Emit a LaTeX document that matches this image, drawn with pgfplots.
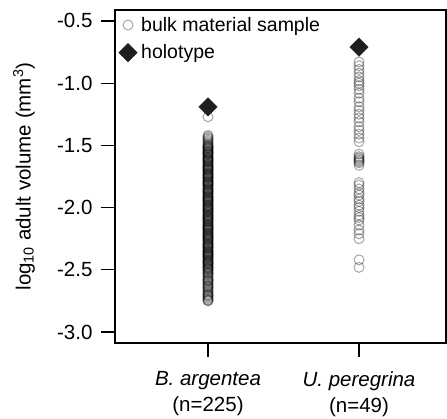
\documentclass[border=0pt]{standalone}
\usepackage{fontspec}
\setmainfont{Liberation Sans}
\usepackage{pgfplots}
\pgfplotsset{compat=1.18}

\begin{document}
\begin{tikzpicture}
\useasboundingbox (-115pt,-76pt) rectangle (332pt,343pt);
\begin{axis}[
  at={(0,0)}, anchor=south west,
  scale only axis, width=331pt, height=333pt,
  xmin=0.384, xmax=2.576, ymin=-3.088, ymax=-0.412,
  axis line style={line width=1.3pt},
  tick style={line width=1.3pt, black},
  tick align=outside, major tick length=14pt,
  xtick pos=left, ytick pos=left,
  xtick={1,2},
  xticklabels={{\textit{B. argentea}\\(n=225)},{\textit{U. peregrina}\\(n=49)}},
  xticklabel style={align=center, yshift=-11pt, font=\fontsize{20.5}{26}\selectfont},
  ytick={-3,-2.5,-2,-1.5,-1,-0.5},
  yticklabels={-3.0,-2.5,-2.0,-1.5,-1.0,-0.5},
  yticklabel style={xshift=-5pt, font=\fontsize{20.5}{24}\selectfont},
  ylabel={log\textsubscript{10} adult volume (mm\textsuperscript{3})},
  ylabel style={at={(axis description cs:-0.275,0.5)}, anchor=center,
    font=\fontsize{20.5}{24}\selectfont},
  legend style={at={(axis description cs:0.011,0.985)}, anchor=north west,
    draw=none, fill=none, inner sep=0pt, row sep=8pt,
    font=\fontsize{19.5}{22}\selectfont},
  legend cell align=left,
  legend image code/.code={
    \draw[mark repeat=2, mark phase=2, #1] plot coordinates {(0pt,0pt) (7pt,0pt) (14pt,0pt)};
    \path (18pt,0pt);},
]
% bulk material, B. argentea
\addplot[only marks, mark=o, mark size=5pt,
  mark options={draw=black, draw opacity=0.35, line width=1pt}]
  table[x expr=1, y index=0, header=false, row sep=\\] {
-1.27\\
-1.42\\ -1.43\\ -1.44\\ -1.45\\ -1.46\\ -1.47\\ -1.48\\ -1.49\\
-1.500\\ -1.505\\ -1.510\\ -1.515\\ -1.520\\ -1.525\\ -1.530\\ -1.540\\ -1.545\\ -1.550\\
-1.555\\ -1.560\\ -1.565\\ -1.570\\ -1.575\\ -1.580\\ -1.590\\ -1.595\\
-1.600\\ -1.605\\ -1.610\\ -1.615\\ -1.620\\ -1.625\\ -1.630\\ -1.635\\ -1.640\\ -1.650\\
-1.655\\ -1.660\\ -1.665\\ -1.670\\ -1.675\\ -1.680\\ -1.685\\ -1.690\\ -1.695\\
-1.700\\ -1.705\\ -1.710\\ -1.720\\ -1.725\\ -1.730\\ -1.735\\ -1.740\\ -1.745\\ -1.750\\
-1.755\\ -1.760\\ -1.765\\ -1.770\\ -1.780\\ -1.785\\ -1.790\\ -1.795\\
-1.800\\ -1.805\\ -1.810\\ -1.815\\ -1.820\\ -1.825\\ -1.830\\ -1.840\\ -1.845\\ -1.850\\
-1.855\\ -1.860\\ -1.865\\ -1.870\\ -1.875\\ -1.880\\ -1.885\\ -1.890\\
-1.900\\ -1.905\\ -1.910\\ -1.915\\ -1.920\\ -1.925\\ -1.930\\ -1.935\\ -1.940\\ -1.945\\
-1.950\\ -1.955\\ -1.960\\ -1.970\\ -1.975\\ -1.980\\ -1.985\\ -1.990\\ -1.995\\
-2.000\\ -2.005\\ -2.010\\ -2.015\\ -2.020\\ -2.025\\ -2.030\\ -2.035\\ -2.040\\ -2.050\\
-2.055\\ -2.060\\ -2.065\\ -2.070\\ -2.075\\ -2.080\\ -2.085\\ -2.090\\ -2.095\\
-2.100\\ -2.105\\ -2.110\\ -2.115\\ -2.120\\ -2.130\\ -2.135\\ -2.140\\ -2.145\\ -2.150\\
-2.155\\ -2.160\\ -2.165\\ -2.170\\ -2.175\\ -2.180\\ -2.185\\ -2.190\\
-2.200\\ -2.205\\ -2.210\\ -2.215\\ -2.220\\ -2.225\\ -2.230\\ -2.235\\ -2.240\\ -2.245\\
-2.250\\ -2.255\\ -2.260\\ -2.265\\ -2.270\\ -2.280\\ -2.285\\ -2.290\\ -2.295\\
-2.300\\ -2.305\\ -2.310\\ -2.315\\ -2.320\\ -2.325\\ -2.330\\ -2.340\\ -2.345\\ -2.350\\
-2.355\\ -2.360\\ -2.365\\ -2.370\\ -2.375\\ -2.380\\ -2.385\\ -2.390\\ -2.395\\
-2.400\\ -2.405\\ -2.410\\ -2.420\\ -2.425\\ -2.430\\ -2.435\\ -2.440\\ -2.445\\ -2.450\\
-2.455\\ -2.460\\ -2.470\\ -2.475\\ -2.480\\ -2.485\\ -2.490\\ -2.495\\
-2.50\\ -2.51\\ -2.52\\ -2.525\\ -2.53\\ -2.54\\ -2.55\\ -2.56\\ -2.57\\ -2.58\\ -2.585\\
-2.59\\ -2.60\\ -2.61\\ -2.62\\ -2.63\\ -2.635\\ -2.64\\ -2.65\\ -2.66\\ -2.67\\ -2.68\\
-2.69\\ -2.70\\ -2.705\\ -2.71\\ -2.72\\ -2.73\\ -2.74\\ -2.745\\ -2.75\\
};
\addlegendentry{bulk material sample}
% bulk material, U. peregrina
\addplot[only marks, mark=o, mark size=5pt,
  mark options={draw=black, draw opacity=0.35, line width=1pt}, forget plot]
  table[x expr=2, y index=0, header=false, row sep=\\] {
-0.83\\ -0.86\\ -0.89\\ -0.92\\ -0.95\\ -0.98\\ -1.00\\ -1.02\\ -1.05\\ -1.08\\ -1.12\\
-1.15\\ -1.19\\ -1.22\\ -1.25\\ -1.28\\ -1.31\\ -1.35\\ -1.38\\ -1.41\\ -1.44\\ -1.47\\
-1.57\\ -1.59\\ -1.60\\ -1.61\\ -1.62\\ -1.63\\ -1.64\\ -1.66\\
-1.80\\ -1.82\\ -1.85\\ -1.88\\ -1.90\\ -1.93\\ -1.95\\ -1.98\\ -2.00\\ -2.03\\ -2.06\\
-2.08\\ -2.10\\ -2.14\\ -2.18\\ -2.21\\ -2.25\\
-2.42\\ -2.48\\
};
% holotypes
\addplot[only marks, mark=square*, mark size=6.5pt,
  mark options={rotate=45, fill=black!88, draw=black!88}]
  coordinates {(1,-1.19) (2,-0.71)};
\addlegendentry{holotype}
\end{axis}
\end{tikzpicture}
\end{document}
